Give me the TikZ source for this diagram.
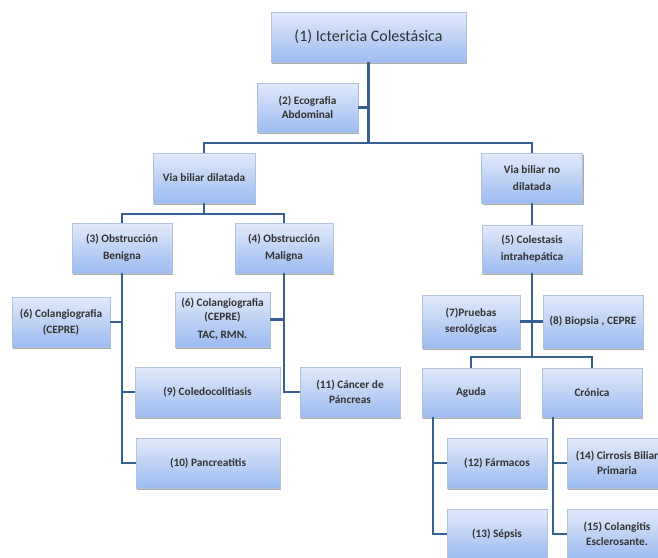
\documentclass[tikz,border=0pt]{standalone}
\usepackage{fontspec}
\setmainfont{Carlito}
\usetikzlibrary{shadows}
\definecolor{linea}{RGB}{55,96,146}
\definecolor{cajaarriba}{RGB}{226,234,250}
\definecolor{cajaabajo}{RGB}{155,187,240}
\definecolor{cajaborde}{RGB}{178,194,222}

\begin{document}
\begin{tikzpicture}[x=1pt, y=-1pt, font=\fontsize{11.3}{15.5}\selectfont\bfseries,
  caja/.style={draw=cajaborde, line width=0.6pt, top color=cajaarriba, bottom color=cajaabajo,
    align=center, inner sep=1pt, text=black!80,
    drop shadow={shadow xshift=1.3pt, shadow yshift=-1.8pt, opacity=0.6, fill=black!55}},
  rama/.style={draw=linea, line width=2.2pt}]
  \useasboundingbox (0,0) rectangle (658,557);
  \clip (0,0) rectangle (658,557);

  \node[caja, minimum width=195, minimum height=50, font=\fontsize{16}{18}\selectfont\mdseries]
    (n1) at (368.5,37) {(1) Ictericia Colestásica};
  \foreach \nom/\xc/\yc/\an/\al/\txt in {
    n2/307.5/107.5/101/49/{(2) Ecografia\\[-1.5pt]Abdominal},
    n3a/204/178/102/50/{Via biliar dilatada},
    n3b/532/178/101/50/{Via biliar no\\[1.5pt]dilatada},
    n3/122/248/100/50/{(3) Obstrucción\\[2pt]Benigna},
    n4/284/248/98/50/{(4) Obstrucción\\[2pt]Maligna},
    n5/532/249/100/48/{(5) Colestasis\\[1.5pt]intrahepática},
    n6a/61/322/98/50/{(6) Colangiografia\\(CEPRE)},
    n6b/222.5/319.5/95/55/{(6) Colangiografia\\[-2pt](CEPRE)\\[3pt]TAC, RMN.},
    n7/471/321.5/98/53/{(7)Pruebas\\serológicas},
    n8/593/321.5/100/53/{(8) Biopsia , CEPRE},
    n9/207.5/392/145/50/{(9) Coledocolitiasis},
    n11/350/392/100/50/{(11) Cáncer de\\Páncreas},
    n10/208/463/144/50/{(10) Pancreatitis},
    aguda/471/392.5/98/49/{Aguda},
    cronica/592/392.5/100/49/{Crónica},
    n12/497/463/100/50/{(12) Fármacos},
    n13/497/534/100/50/{(13) Sépsis},
    n14/617/463/100/50/{(14) Cirrosis Biliar\\Primaria},
    n15/617/534/100/50/{(15) Colangitis\\Esclerosante.}}
    \node[caja, minimum width=\an, minimum height=\al] (\nom) at (\xc,\yc) {\txt};

  \coordinate (j1) at (368.5,143);
  \coordinate (j2) at (204,214);
  \coordinate (j3) at (532,357);
  \coordinate (ta) at ([xshift=11pt]aguda.south west);
  \coordinate (tc) at ([xshift=11pt]cronica.south west);

  \draw[rama] (n1.south) -- (j1);
  \draw[rama] (n2.east) -- (n2.east -| j1);
  \draw[rama] (n3a.north) |- (j1) -| (n3b.north);
  \draw[rama] (n3a.south) -- (j2);
  \draw[rama] (n3.north) |- (j2) -| (n4.north);
  \draw[rama] (n3b.south) -- (n5.north);
  \draw[rama] (n3.south) |- (n10.west);
  \draw[rama] (n6a.east) -- (n6a.east -| n3.south);
  \draw[rama] (n9.west) -- (n9.west -| n3.south);
  \draw[rama] (n4.south) |- (n11.west);
  \draw[rama] (n6b.east) -- (n6b.east -| n4.south);
  \draw[rama] (n5.south) -- (j3);
  \draw[rama] (n7.east) -- (n8.west);
  \draw[rama] (aguda.north) |- (j3) -| (cronica.north);
  \draw[rama] (ta) |- (n12.west);
  \draw[rama] (ta) |- (n13.west);
  \draw[rama] (tc) |- (n14.west);
  \draw[rama] (tc) |- (n15.west);
\end{tikzpicture}
\end{document}
